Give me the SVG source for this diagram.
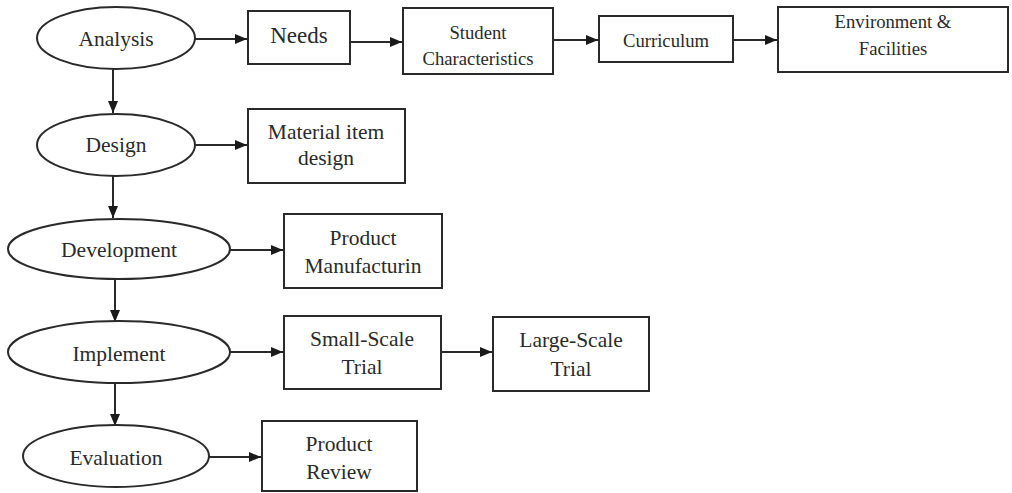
<svg xmlns="http://www.w3.org/2000/svg" width="1012" height="493" viewBox="0 0 1012 493">
<style>
.n{fill:#fff;stroke:#2a2a2a;stroke-width:2}
.t{font-family:"Liberation Serif","Times New Roman",serif;font-size:21.5px;fill:#2a2a2a;text-anchor:middle}
.s{font-size:18.7px}
.c{stroke:#2a2a2a;stroke-width:2;fill:none;marker-end:url(#a)}
</style>
<defs>
<marker id="a" markerWidth="12" markerHeight="10" refX="12" refY="5" orient="auto" markerUnits="userSpaceOnUse">
<path d="M0,0 L12,5 L0,10 Z" fill="#1a1a1a"/>
</marker>
</defs>
<rect width="1012" height="493" fill="#fff"/>
<g id="connectors">
<line class="c" x1="195" y1="39" x2="247" y2="39"/>
<line class="c" x1="350" y1="42" x2="402" y2="42"/>
<line class="c" x1="553" y1="40" x2="598" y2="40"/>
<line class="c" x1="733" y1="40" x2="777" y2="40"/>
<line class="c" x1="113" y1="69" x2="113" y2="113"/>
<line class="c" x1="195" y1="145" x2="247" y2="145"/>
<line class="c" x1="113" y1="176" x2="113" y2="218"/>
<line class="c" x1="229" y1="250" x2="283" y2="250"/>
<line class="c" x1="115" y1="279" x2="115" y2="322"/>
<line class="c" x1="229" y1="352" x2="283" y2="352"/>
<line class="c" x1="441" y1="352" x2="492" y2="352"/>
<line class="c" x1="115" y1="383" x2="115" y2="426"/>
<line class="c" x1="209" y1="457" x2="261" y2="457"/>
</g>
<g id="analysis"><ellipse class="n" cx="116" cy="38" rx="79" ry="31"/><text class="t" x="116" y="46">Analysis</text></g>
<g id="needs"><rect class="n" x="248" y="11" width="102" height="53"/><text class="t" x="299" y="43" style="font-size:23px">Needs</text></g>
<g id="student"><rect class="n" x="403" y="8" width="150" height="66"/><text class="t s" x="478" y="39">Student</text><text class="t s" x="478" y="65">Characteristics</text></g>
<g id="curriculum"><rect class="n" x="599" y="16" width="134" height="46"/><text class="t s" x="666" y="47">Curriculum</text></g>
<g id="environment"><rect class="n" x="778" y="7" width="230" height="65"/><text class="t s" x="893" y="28">Environment &amp;</text><text class="t s" x="893" y="55">Facilities</text></g>
<g id="design"><ellipse class="n" cx="116" cy="145" rx="79" ry="31"/><text class="t" x="116" y="152">Design</text></g>
<g id="material"><rect class="n" x="248" y="109" width="157" height="74"/><text class="t" x="326" y="139">Material item</text><text class="t" x="326" y="165">design</text></g>
<g id="development"><ellipse class="n" cx="119" cy="249" rx="111" ry="30"/><text class="t" x="119" y="257">Development</text></g>
<g id="manufacturing"><rect class="n" x="284" y="214" width="158" height="74"/><text class="t" x="363" y="245">Product</text><text class="t" x="363" y="273">Manufacturin</text></g>
<g id="implement"><ellipse class="n" cx="119" cy="352" rx="111" ry="31"/><text class="t" x="119" y="361">Implement</text></g>
<g id="smallscale"><rect class="n" x="284" y="316" width="157" height="73"/><text class="t" x="362" y="346">Small-Scale</text><text class="t" x="362" y="374">Trial</text></g>
<g id="largescale"><rect class="n" x="493" y="317" width="156" height="74"/><text class="t" x="571" y="347">Large-Scale</text><text class="t" x="571" y="376">Trial</text></g>
<g id="evaluation"><ellipse class="n" cx="116" cy="456" rx="93" ry="31"/><text class="t" x="116" y="465">Evaluation</text></g>
<g id="review"><rect class="n" x="262" y="421" width="155" height="70"/><text class="t" x="339" y="451">Product</text><text class="t" x="339" y="479">Review</text></g>
</svg>
